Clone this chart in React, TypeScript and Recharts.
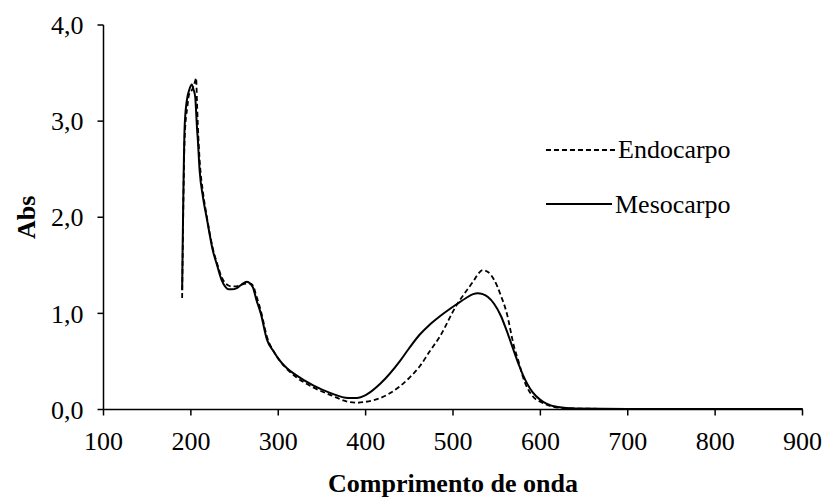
import React from 'react';
import { LineChart, Line, XAxis, YAxis } from 'recharts';

const wavelengths = [190, 193, 196, 198, 201, 203, 205, 206, 207, 208, 210, 214, 218, 225, 230, 235, 240, 243, 247, 252, 258, 264, 268, 271, 275, 280, 287, 295, 300, 310, 320, 340, 360, 380, 390, 400, 417, 439, 450, 462, 473, 485, 505, 515, 523, 528, 534, 540, 547, 555, 561, 570, 576, 580, 591, 600, 607, 620, 640, 700, 800, 900];
const mesocarpo = [1.24, 2.97, 3.25, 3.32, 3.38, 3.33, 3.25, 3.1, 2.93, 2.8, 2.49, 2.2, 2.0, 1.66, 1.5, 1.35, 1.27, 1.25, 1.25, 1.26, 1.3, 1.33, 1.31, 1.27, 1.14, 1.0, 0.73, 0.6, 0.53, 0.43, 0.36, 0.25, 0.17, 0.12, 0.12, 0.15, 0.27, 0.5, 0.64, 0.78, 0.88, 0.97, 1.1, 1.16, 1.2, 1.21, 1.2, 1.17, 1.1, 0.97, 0.83, 0.6, 0.45, 0.36, 0.18, 0.1, 0.06, 0.025, 0.01, 0.006, 0.005, 0.005];
const endocarpo = [1.16, 2.85, 3.15, 3.28, 3.32, 3.36, 3.42, 3.45, 3.2, 2.95, 2.6, 2.25, 2.02, 1.68, 1.52, 1.38, 1.31, 1.29, 1.28, 1.28, 1.3, 1.31, 1.31, 1.29, 1.18, 1.03, 0.76, 0.6, 0.53, 0.42, 0.34, 0.23, 0.15, 0.08, 0.07, 0.08, 0.12, 0.24, 0.33, 0.45, 0.6, 0.76, 1.1, 1.23, 1.33, 1.4, 1.45, 1.43, 1.35, 1.18, 1.02, 0.65, 0.47, 0.34, 0.14, 0.08, 0.05, 0.02, 0.01, 0.006, 0.005, 0.005];
const xTicks = [100, 200, 300, 400, 500, 600, 700, 800, 900];
const yTicks = [0, 1, 2, 3, 4];
const seriesNames = ['Endocarpo', 'Mesocarpo'];

const data = wavelengths.map((w, i) => ({ w, meso: mesocarpo[i], endo: endocarpo[i] }));

const FONT = '"Liberation Serif", "Times New Roman", serif';

const LegendBox = () => (
  <svg width={220} height={100} style={{ display: 'block' }}>
    <line x1={0} y1={25} x2={69} y2={25} stroke="#000" strokeWidth={1.8} strokeDasharray="5 3" />
    <text x={72} y={33} fontFamily={FONT} fontSize={26} fill="#000">{seriesNames[0]}</text>
    <line x1={0} y1={79} x2={66} y2={79} stroke="#000" strokeWidth={2} />
    <text x={69} y={88} fontFamily={FONT} fontSize={26} fill="#000">{seriesNames[1]}</text>
  </svg>
);

export default function App() {
  return (
    <div style={{ position: 'absolute', left: 0, top: 0, width: 825, height: 497, overflow: 'hidden' }}>
      <style>{`html, body { overflow: hidden; margin: 0; } .recharts-surface { overflow: visible; }`}</style>
      <LineChart
        width={825}
        height={497}
        data={data}
        margin={{ top: 25, right: 22.5, bottom: 27.5, left: 0 }}
      >
        <XAxis
          dataKey="w"
          type="number"
          domain={[100, 900]}
          ticks={xTicks}
          interval={0}
          stroke="#000"
          strokeWidth={1.5}
          tickSize={6}
          tickMargin={16}
          height={60}
          tick={{ fill: '#000', fontSize: 26, fontFamily: FONT }}
          label={{
            content: (props: any) => {
              const vb = props.viewBox || {};
              return (
                <text
                  x={vb.x + vb.width / 2}
                  y={vb.y + 82}
                  textAnchor="middle"
                  fontFamily={FONT}
                  fontSize={26}
                  fontWeight="bold"
                  fill="#000"
                >
                  Comprimento de onda
                </text>
              );
            },
          }}
        />
        <YAxis
          type="number"
          domain={[0, 4]}
          ticks={yTicks}
          interval={0}
          width={103.5}
          stroke="#000"
          strokeWidth={1.5}
          tickSize={6}
          tickMargin={14}
          tickFormatter={(v: number) => v.toFixed(1).replace('.', ',')}
          tick={{ fill: '#000', fontSize: 26, fontFamily: FONT }}
          label={{
            content: (props: any) => {
              const vb = props.viewBox || {};
              const cx = 26;
              const cy = vb.y + vb.height / 2;
              return (
                <text
                  x={cx}
                  y={cy}
                  transform={`rotate(-90 ${cx} ${cy})`}
                  textAnchor="middle"
                  dominantBaseline="central"
                  fontFamily={FONT}
                  fontSize={26}
                  fontWeight="bold"
                  fill="#000"
                >
                  Abs
                </text>
              );
            },
          }}
        />
        <Line
          type="monotone"
          dataKey="endo"
          name={seriesNames[0]}
          stroke="#000"
          strokeWidth={1.8}
          strokeDasharray="5 3"
          dot={false}
          activeDot={false}
          isAnimationActive={false}
        />
        <Line
          type="monotone"
          dataKey="meso"
          name={seriesNames[1]}
          stroke="#000"
          strokeWidth={2}
          dot={false}
          activeDot={false}
          isAnimationActive={false}
        />
      </LineChart>
      <div style={{ position: 'absolute', left: 546, top: 125 }}>
        <LegendBox />
      </div>
    </div>
  );
}
